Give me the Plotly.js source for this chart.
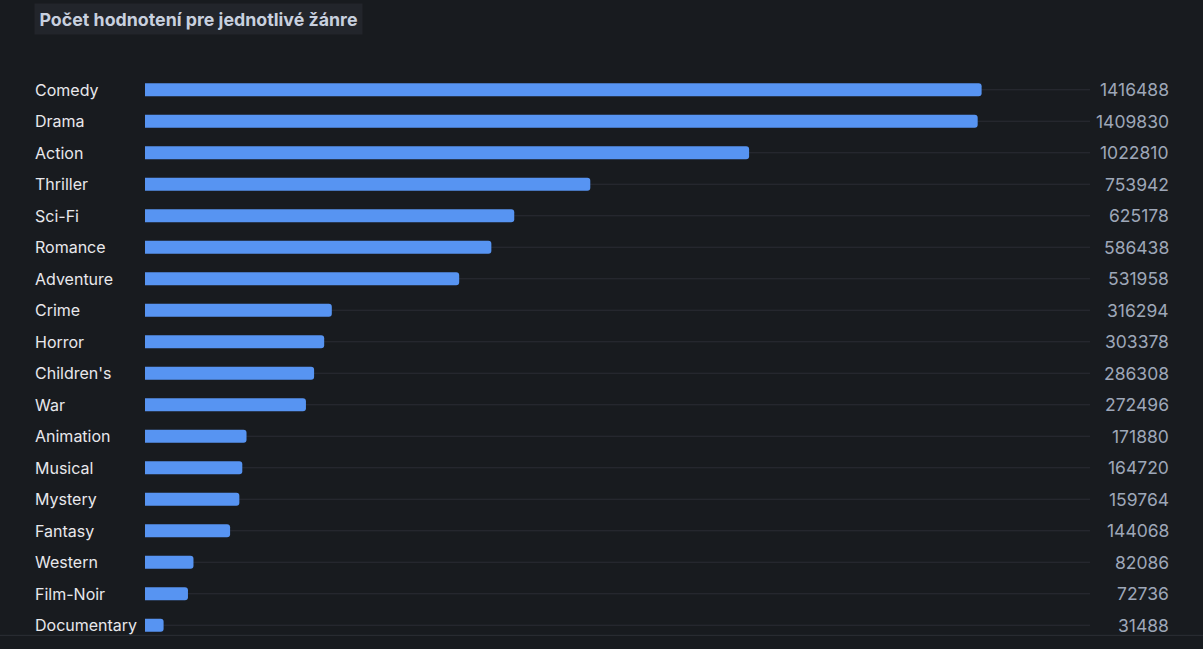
<!DOCTYPE html>
<html>
<head>
<meta charset="utf-8">
<script src="https://cdn.plot.ly/plotly-3.0.1.min.js"></script>
<style>
html,body{margin:0;padding:0;background:#181b1f;}
#chart{width:1203px;height:649px;}
</style>
</head>
<body>
<div id="chart"></div>
<script>
var genres = ["Comedy","Drama","Action","Thriller","Sci-Fi","Romance","Adventure","Crime","Horror","Children's","War","Animation","Musical","Mystery","Fantasy","Western","Film-Noir","Documentary"];
var ratings = [1416488,1409830,1022810,753942,625178,586438,531958,316294,303378,286308,272496,171880,164720,159764,144068,82086,72736,31488];
var titleText = "Počet hodnotení pre jednotlivé žánre";

var shapes = genres.map(function(g){
  return {type:'line', xref:'paper', yref:'y', x0:0, x1:1, y0:g, y1:g,
          line:{color:'#2a2d34', width:1}, layer:'below'};
});
shapes.push({type:'line', xref:'paper', yref:'paper', x0:-0.16, x1:1.15, y0:0.01, y1:0.01,
             line:{color:'#2c2f36', width:1}});

var annotations = [];
genres.forEach(function(g, i){
  annotations.push({xref:'paper', yref:'y', x:-0.1185, y:g, xanchor:'left', yanchor:'middle',
    text:g, showarrow:false, font:{family:'Inter, sans-serif', size:16, color:'#e8e8ec'}});
  annotations.push({xref:'paper', yref:'y', x:1.0855, y:g, xanchor:'right', yanchor:'middle',
    text:String(ratings[i]), showarrow:false, font:{family:'Inter, sans-serif', size:17.5, color:'#9ea7b8'}});
});
annotations.push({xref:'paper', yref:'paper', x:-0.1175, y:1.097, xanchor:'left', yanchor:'middle',
  text:'<b>'+titleText+'</b>', showarrow:false, bgcolor:'#22252b', borderpad:4.5,
  font:{family:'Inter, sans-serif', size:17.8, color:'#c8d0df'}});

var trace = {
  type:'bar', orientation:'h', x:ratings, y:genres,
  marker:{color:'#5794f2', cornerradius:3},
  hoverinfo:'x+y'
};

var layout = {
  width:1203, height:649,
  paper_bgcolor:'#181b1f', plot_bgcolor:'#181b1f',
  margin:{l:145, r:113, t:74, b:8},
  bargap:0.587,
  showlegend:false,
  xaxis:{range:[0,1600000], showgrid:false, zeroline:false, showticklabels:false, fixedrange:true},
  yaxis:{type:'category', autorange:'reversed', showgrid:false, zeroline:false, showticklabels:false, fixedrange:true},
  shapes:shapes,
  annotations:annotations
};

Plotly.newPlot('chart', [trace], layout, {displayModeBar:false, staticPlot:true});
</script>
</body>
</html>
